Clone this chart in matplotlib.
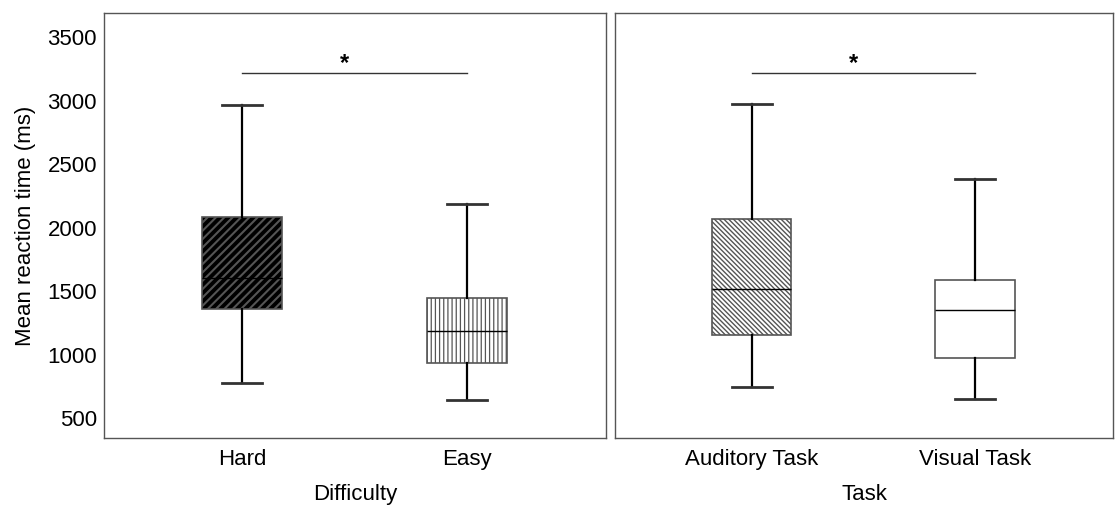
import matplotlib
matplotlib.use("Agg")
import matplotlib.pyplot as plt

plt.rcParams['font.family'] = ['Liberation Sans', 'DejaVu Sans']
plt.rcParams['hatch.linewidth'] = 1.0

# Box-plot summaries (ms): lower whisker, Q1, median, Q3, upper whisker
difficulty_labels = ["Hard", "Easy"]
difficulty_whislo = [776, 642]
difficulty_q1 = [1358, 933]
difficulty_med = [1602, 1185]
difficulty_q3 = [2083, 1445]
difficulty_whishi = [2965, 2185]

task_labels = ["Auditory Task", "Visual Task"]
task_whislo = [744, 650]
task_q1 = [1154, 972]
task_med = [1516, 1350]
task_q3 = [2067, 1587]
task_whishi = [2970, 2382]

sig_level = 3215
y_ticks = [500, 1000, 1500, 2000, 2500, 3000, 3500]


def make_stats(labels, lo, q1, med, q3, hi):
    return [dict(label=l, whislo=a, q1=b, med=c, q3=d, whishi=e, fliers=[])
            for l, a, b, c, d, e in zip(labels, lo, q1, med, q3, hi)]


fig = plt.figure(figsize=(11.16, 5.09), dpi=100)
ax1 = fig.add_axes([0.0932, 0.1395, 0.4498, 0.835])
ax2 = fig.add_axes([0.551, 0.1395, 0.4463, 0.835], sharey=ax1)

styles = [
    # Hard: black with white diagonal stripes
    [dict(face="black", hatch="////", hcolor="white", hlw=1.5),
     # Easy: fine light vertical lines
     dict(face="white", hatch="||||", hcolor="#cccccc", hlw=0.9)],
    # Auditory: dense back-slash hatching
    [dict(face="white", hatch="\\" * 7, hcolor="#303030", hlw=1.0),
     dict(face="white", hatch="", hcolor="black", hlw=1.0)],
]

panels = [
    (ax1, make_stats(difficulty_labels, difficulty_whislo, difficulty_q1,
                     difficulty_med, difficulty_q3, difficulty_whishi), "Difficulty"),
    (ax2, make_stats(task_labels, task_whislo, task_q1, task_med,
                     task_q3, task_whishi), "Task"),
]

for (ax, stats, xlabel), sty in zip(panels, styles):
    bp = ax.bxp(stats, positions=[0, 1], widths=0.355, showfliers=False,
                patch_artist=True,
                whiskerprops=dict(color="black", linewidth=1.6),
                capprops=dict(color="#333333", linewidth=2.0),
                medianprops=dict(color="black", linewidth=1.0),
                boxprops=dict(edgecolor="#555555", linewidth=1.2))
    for cap in bp['caps']:
        x = cap.get_xdata()
        c = (x[0] + x[1]) / 2
        cap.set_xdata([c - 0.089, c + 0.089])
    for box, s in zip(bp['boxes'], sty):
        box.set_facecolor(s["face"])
        box.set_hatch(s["hatch"])
        box.set_hatch_linewidth(s["hlw"])
        box._hatch_color = matplotlib.colors.to_rgba(s["hcolor"])
        box.set_edgecolor("#555555")

    ax.set_xlim(-0.613, 1.618)
    ax.set_xlabel(xlabel, fontsize=16, labelpad=10)
    ax.tick_params(axis='x', length=0, labelsize=16, pad=8)
    for sp in ax.spines.values():
        sp.set_color("#555555")
        sp.set_linewidth(1.0)

    # significance bar between the two groups
    ax.plot([0.0, 1.0], [sig_level, sig_level], color="#333333", linewidth=1.0)
    ax.text(0.455, sig_level - 10, "*", ha="center", va="bottom",
            fontsize=17, fontweight="bold")

ax1.set_ylim(343, 3690)
ax1.set_yticks(y_ticks)
ax1.tick_params(axis='y', length=0, labelsize=16, pad=5)
ax1.set_ylabel("Mean reaction time (ms)", fontsize=16, labelpad=8)
ax2.tick_params(axis='y', left=False, labelleft=False)

fig.savefig("out.png", dpi=100)
